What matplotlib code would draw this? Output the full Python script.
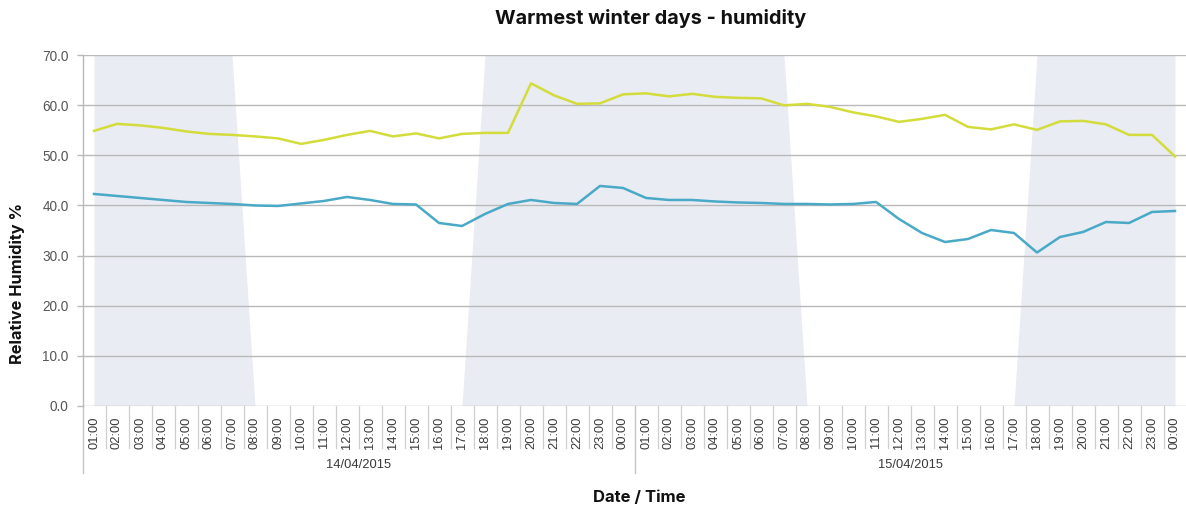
import matplotlib
matplotlib.use("Agg")
import matplotlib.pyplot as plt
import matplotlib.transforms as mtransforms
from matplotlib.lines import Line2D
import numpy as np

# ---- data ----
hours = ["01:00", "02:00", "03:00", "04:00", "05:00", "06:00", "07:00", "08:00",
         "09:00", "10:00", "11:00", "12:00", "13:00", "14:00", "15:00", "16:00",
         "17:00", "18:00", "19:00", "20:00", "21:00", "22:00", "23:00", "00:00"]
dates = ["14/04/2015", "15/04/2015"]
tick_labels = hours + hours

humidity_high = [54.9, 56.3, 56.0, 55.5, 54.8, 54.3, 54.1, 53.8, 53.4, 52.3, 53.1, 54.1,
                 54.9, 53.8, 54.4, 53.4, 54.3, 54.5, 54.5, 64.4, 62.0, 60.3, 60.4, 62.2,
                 62.4, 61.8, 62.3, 61.7, 61.5, 61.4, 60.0, 60.3, 59.7, 58.6, 57.8, 56.7,
                 57.3, 58.1, 55.7, 55.2, 56.2, 55.1, 56.8, 56.9, 56.2, 54.1, 54.1, 49.8]
humidity_low = [42.3, 41.9, 41.5, 41.1, 40.7, 40.5, 40.3, 40.0, 39.9, 40.4, 40.9, 41.7,
                41.1, 40.3, 40.2, 36.5, 35.9, 38.3, 40.3, 41.1, 40.5, 40.3, 43.9, 43.5,
                41.5, 41.1, 41.1, 40.8, 40.6, 40.5, 40.3, 40.3, 40.2, 40.3, 40.7, 37.3,
                34.5, 32.7, 33.3, 35.1, 34.5, 30.6, 33.7, 34.7, 36.7, 36.5, 38.7, 38.9]
# night flag (1 = dark hours)
night = [1, 1, 1, 1, 1, 1, 1, 0, 0, 0, 0, 0, 0, 0, 0, 0, 0, 1, 1, 1, 1, 1, 1, 1,
         1, 1, 1, 1, 1, 1, 1, 0, 0, 0, 0, 0, 0, 0, 0, 0, 0, 1, 1, 1, 1, 1, 1, 1]

# ---- style ----
YELLOW = "#d3dc3b"
BLUE = "#49a9c6"
SHADE = "#e9ecf3"
GRID = "#b9b9b9"
TEXT = "#3a3a3a"
TICKFONT = ["Liberation Sans", "DejaVu Sans"]
HEADFONT = ["Inter", "Liberation Sans", "DejaVu Sans"]

W, H = 1186, 511
fig = plt.figure(figsize=(W / 100, H / 100), dpi=100)
ax_left, ax_right, ax_top, ax_bottom = 82.5, 1186.5, 55.3, 405.7
ax = fig.add_axes([ax_left / W, 1 - ax_bottom / H, (ax_right - ax_left) / W,
                   (ax_bottom - ax_top) / H])

n = len(tick_labels)
x = np.arange(n)
ymax = 70
ax.fill_between(x, np.array(night) * ymax, 0, color=SHADE, lw=0, zorder=0)
ax.plot(x, humidity_high, color=YELLOW, lw=1.8, zorder=3, solid_joinstyle="round")
ax.plot(x, humidity_low, color=BLUE, lw=1.8, zorder=3, solid_joinstyle="round")

ax.set_xlim(-0.5, n - 0.5)
ax.set_ylim(0, ymax)
ax.set_yticks(np.arange(0, ymax + 1, 10))
ax.set_yticklabels([f"{v:.1f}" for v in np.arange(0, ymax + 1, 10)],
                   fontfamily=TICKFONT, fontsize=9.8, color="#555555")
ax.yaxis.grid(True, color=GRID, lw=1.0, zorder=1)
ax.set_axisbelow(True)
ax.tick_params(axis="y", length=4, width=1.0, color=GRID, pad=6)

ax.set_xticks(x)
ax.set_xticklabels(tick_labels, rotation=90, fontfamily=TICKFONT, fontsize=9.3,
                   color=TEXT, va="top", ha="center")
ax.tick_params(axis="x", length=0, pad=8)

for s in ["top", "right", "bottom"]:
    ax.spines[s].set_visible(False)
ax.spines["left"].set_color(GRID)
ax.spines["left"].set_linewidth(1.0)

trans = mtransforms.blended_transform_factory(ax.transData, ax.transAxes)
axis_h = ax_bottom - ax_top
cell_depth = -(447.7 - ax_bottom) / axis_h
date_depth = -(472.7 - ax_bottom) / axis_h
per_day = len(hours)
for i in range(n):
    b = i + 0.5
    if (i + 1) % per_day == 0:
        continue
    ax.add_line(Line2D([b, b], [0, cell_depth], transform=trans, color="#cfcfcf",
                       lw=0.9, clip_on=False))
for d in range(len(dates) + 1):
    b = d * per_day - 0.5
    if b >= n - 0.5:
        continue
    ax.add_line(Line2D([b, b], [0, date_depth], transform=trans, color="#c4c4c4",
                       lw=1.0, clip_on=False))
for d, lab in enumerate(dates):
    cx = d * per_day + (per_day - 1) / 2
    ax.text(cx, -(465 - ax_bottom) / axis_h, lab, transform=trans, ha="center",
            va="center", fontfamily=TICKFONT, fontsize=9.3, color=TEXT)

fig.text(651 / W, 1 - 23.5 / H, "Warmest winter days - humidity", ha="center",
         va="baseline", fontfamily=HEADFONT, fontsize=14.3, fontweight="bold", color="#111111")
fig.text(639 / W, 1 - 498 / H, "Date / Time", ha="center", va="center",
         fontfamily=HEADFONT, fontsize=12, fontweight="bold", color="#111111")
fig.text(17 / W, 1 - 283 / H, "Relative Humidity %", ha="center", va="center",
         rotation=90, fontfamily=HEADFONT, fontsize=11.8, fontweight="bold", color="#111111")

fig.savefig("out.png", dpi=100)
